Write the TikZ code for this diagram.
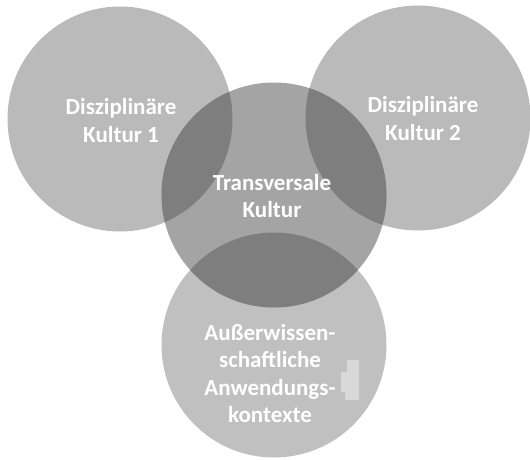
\documentclass[tikz,border=0pt]{standalone}
\usepackage{fontspec}
\setmainfont{Carlito}
\begin{document}
\begin{tikzpicture}[x=1pt,y=-1pt,
  lightcirc/.style={fill=outerfill,draw=none},
  midcirc/.style={fill=midfill,draw=none},
  lens/.style={fill=lensfill,draw=none},
  lbl/.style={text=white,align=center,font=\bfseries\fontsize{23}{27.5}\selectfont,inner sep=0pt}]
\definecolor{outerfill}{HTML}{BABABA}
\definecolor{bottomfill}{HTML}{C0C0C0}
\definecolor{midfill}{HTML}{A4A4A4}
\definecolor{lensfill}{HTML}{7E7E7E}
\definecolor{patchfill}{HTML}{D9D9D9}
\useasboundingbox (0,0) rectangle (530,460);
\def\R{112.5}
% outer circles
\fill[lightcirc] (120,119) circle (\R);
\fill[lightcirc] (418,118) circle (\R);
\fill[fill=bottomfill] (274,345) circle (\R);
% center circle
\fill[midcirc] (274,195) circle (\R);
% overlaps
\begin{scope}
  \clip (274,195) circle (\R);
  \fill[lens] (120,119) circle (\R);
  \fill[lens] (418,118) circle (\R);
  \fill[lens] (274,345) circle (\R);
\end{scope}
% small patch
\fill[patchfill] (347,360) -- (359,360) -- (359,400) -- (345,400) -- (345,392) -- (341,392) -- (341,372) -- (347,372) -- cycle;
% labels
\node[lbl] (d1) at (121,120.5) {Disziplinäre\\Kultur 1};
\node[lbl] (d2) at (423,118.5) {Disziplinäre\\Kultur 2};
\node[lbl] (tk) at (272,196) {Transversale\\Kultur};
\node[lbl] (ak) at (270,373.5) {Außerwissen-\\schaftliche\\Anwendungs-\\kontexte};
\end{tikzpicture}
\end{document}
